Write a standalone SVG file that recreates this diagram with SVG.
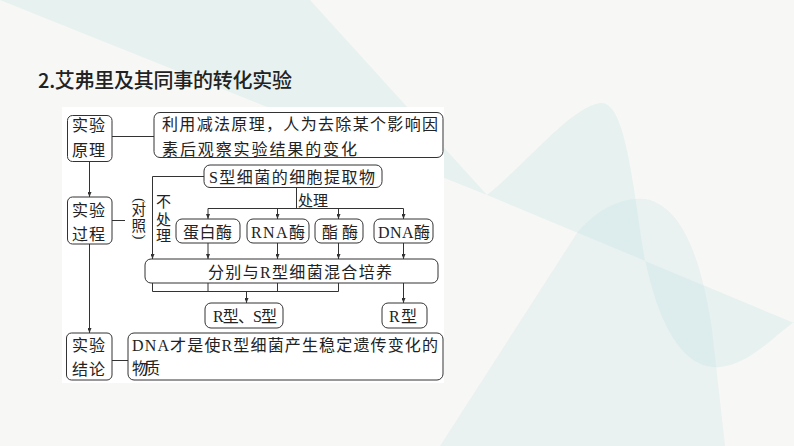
<svg xmlns="http://www.w3.org/2000/svg" width="794" height="446" viewBox="0 0 794 446">
<defs>
<style>
.bg{fill:#c4e5e2;opacity:0.32}
.box{fill:#fff;stroke:#333;stroke-width:1}
.ln{stroke:#333;stroke-width:1;fill:none}
.ar{stroke:#333;stroke-width:1;fill:none;marker-end:url(#ah)}
.t{font-family:"Liberation Serif","Noto Sans CJK SC",serif;font-size:16px;fill:#222}
.s{font-family:"Liberation Serif","Noto Sans CJK SC",serif;font-size:15px;fill:#222}
.title{font-family:"Noto Sans CJK SC",sans-serif;font-size:20px;font-weight:500;fill:#222}
</style>
<marker id="ah" viewBox="0 0 10 8" refX="10" refY="4" markerWidth="5" markerHeight="4" markerUnits="userSpaceOnUse" orient="auto">
<path d="M0,0 L10,4 L0,8 z" fill="#333"/>
</marker>
</defs>
<rect x="0" y="0" width="794" height="446" fill="#f7f7f6"/>
<g id="background">
<path class="bg" d="M0,0 L310,0 L487,195 Z"/>
<path class="bg" d="M487,195 C530,160 570,108 600,103 C625,100 632,180 645,260 C662,340 690,370 720,367 C750,364 775,335 794,322 L794,323 Z"/>
<path class="bg" style="opacity:0.25" d="M440,446 L577,233 C600,205 630,195 650,200 C680,210 700,250 712,330 L725,446 Z"/>
</g>
<rect x="62" y="107" width="382" height="276" fill="#fff"/>
<text class="title" x="38" y="88" textLength="254">2.艾弗里及其同事的转化实验</text>

<g id="connectors">
<line class="ar" x1="89.5" y1="162" x2="89.5" y2="197"/>
<line class="ar" x1="89.5" y1="244" x2="89.5" y2="333"/>
<line class="ln" x1="112" y1="136.5" x2="154" y2="136.5"/>
<line class="ln" x1="112" y1="220.5" x2="125" y2="220.5"/>
<line class="ln" x1="112" y1="360.5" x2="128" y2="360.5"/>
<polyline class="ar" points="204,176.5 152.5,176.5 152.5,259"/>
<line class="ln" x1="296.5" y1="187" x2="296.5" y2="208.5"/>
<line class="ln" x1="208" y1="208.5" x2="403.5" y2="208.5"/>
<line class="ar" x1="208" y1="208.5" x2="208" y2="219"/>
<line class="ar" x1="277.5" y1="208.5" x2="277.5" y2="219"/>
<line class="ar" x1="338.5" y1="208.5" x2="338.5" y2="219"/>
<line class="ar" x1="403.5" y1="208.5" x2="403.5" y2="219"/>
<line class="ar" x1="208" y1="243" x2="208" y2="259"/>
<line class="ar" x1="277.5" y1="243" x2="277.5" y2="259"/>
<line class="ar" x1="338.5" y1="243" x2="338.5" y2="259"/>
<line class="ar" x1="403.5" y1="243" x2="403.5" y2="259"/>
<line class="ln" x1="152.5" y1="283" x2="152.5" y2="291.5"/>
<line class="ln" x1="208" y1="283" x2="208" y2="291.5"/>
<line class="ln" x1="277.5" y1="283" x2="277.5" y2="291.5"/>
<line class="ln" x1="338.5" y1="283" x2="338.5" y2="291.5"/>
<line class="ln" x1="152.5" y1="291.5" x2="338.5" y2="291.5"/>
<line class="ar" x1="246.5" y1="291.5" x2="246.5" y2="303"/>
<line class="ar" x1="403.5" y1="283" x2="403.5" y2="303"/>
<text class="s" x="298" y="206">处理</text>
<text class="s" x="163.5" y="207" text-anchor="middle">不</text>
<text class="s" x="163.5" y="225" text-anchor="middle">处</text>
<text class="s" x="163.5" y="241" text-anchor="middle">理</text>
<text class="s" style="font-size:14.5px"><tspan x="135" y="198" rotate="90" style="font-size:15px">(</tspan><tspan x="131.5" y="215">对</tspan><tspan x="131.5" y="231">照</tspan><tspan x="135" y="234.5" rotate="90" style="font-size:15px">)</tspan></text>
</g>

<g id="n-principle">
<rect class="box" x="67.5" y="115.5" width="44.5" height="46" rx="5"/>
<text class="t" x="72" y="131" textLength="33">实验</text>
<text class="t" x="72" y="156" textLength="33">原理</text>
</g>
<g id="n-principle-text">
<rect class="box" x="154" y="112.5" width="289" height="45" rx="6"/>
<text class="t" x="162" y="130" textLength="276">利用减法原理，人为去除某个影响因</text>
<text class="t" x="162" y="155" textLength="195">素后观察实验结果的变化</text>
</g>
<g id="n-extract">
<rect class="box" x="204" y="165" width="178" height="22.5" rx="6"/>
<text class="t" x="209" y="183" textLength="166">S型细菌的细胞提取物</text>
</g>
<g id="n-process">
<rect class="box" x="67.5" y="197" width="44.5" height="47" rx="5"/>
<text class="t" x="72" y="216" textLength="33">实验</text>
<text class="t" x="72" y="240" textLength="33">过程</text>
</g>
<g id="n-protease">
<rect class="box" x="176" y="219" width="64" height="24" rx="6"/>
<text class="t" x="183" y="238" textLength="49">蛋白酶</text>
</g>
<g id="n-rnase">
<rect class="box" x="247" y="219" width="62" height="24" rx="6"/>
<text class="t" x="251" y="238" textLength="54">RNA酶</text>
</g>
<g id="n-lipase">
<rect class="box" x="315" y="219" width="48" height="24" rx="6"/>
<text class="t" x="322" y="238" textLength="36">酯酶</text>
</g>
<g id="n-dnase">
<rect class="box" x="374" y="219" width="59" height="24" rx="6"/>
<text class="t" x="378" y="238" textLength="52">DNA酶</text>
</g>
<g id="n-culture">
<rect class="box" x="145" y="259" width="293" height="24" rx="6"/>
<text class="t" x="208" y="278" textLength="184">分别与R型细菌混合培养</text>
</g>
<g id="n-rs">
<rect class="box" x="205" y="303" width="78" height="25" rx="6"/>
<text class="t" x="213" y="322" textLength="64">R型、S型</text>
</g>
<g id="n-r">
<rect class="box" x="382" y="303" width="45" height="25" rx="6"/>
<text class="t" x="389" y="322" textLength="28">R型</text>
</g>
<g id="n-conclusion">
<rect class="box" x="66.5" y="333" width="45.5" height="47" rx="5"/>
<text class="t" x="72" y="351" textLength="33">实验</text>
<text class="t" x="72" y="375" textLength="33">结论</text>
</g>
<g id="n-conclusion-text">
<rect class="box" x="128" y="333" width="315" height="47" rx="6"/>
<text class="t" x="132" y="351" textLength="306">DNA才是使R型细菌产生稳定遗传变化的</text>
<text class="t" x="132" y="374" textLength="28">物质</text>
</g>
</svg>
